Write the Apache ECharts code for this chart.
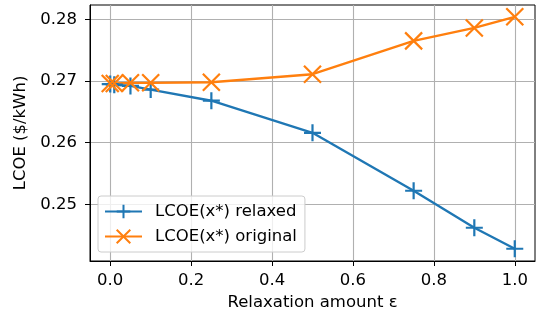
<!DOCTYPE html>
<html>
<head>
<meta charset="utf-8">
<script src="https://cdn.jsdelivr.net/npm/echarts@6/dist/echarts.min.js"></script>
<style>
  html, body { margin: 0; padding: 0; background: #fff; }
  #chart { width: 540px; height: 318px; }
</style>
</head>
<body>
<div id="chart"></div>
<script>
// relaxation amounts (x) and LCOE values
const epsilon = [0, 0.01, 0.05, 0.1, 0.25, 0.5, 0.75, 0.9, 1.0];
const lcoeRelaxed = [0.2695, 0.2694, 0.2692, 0.2686, 0.2668, 0.2616, 0.2522, 0.2462, 0.2428];
const lcoeOriginal = [0.2696, 0.2696, 0.2697, 0.2697, 0.2698, 0.2711, 0.2765, 0.2786, 0.2804];
const xTicks = [0, 0.2, 0.4, 0.6, 0.8, 1.0];
const yTicks = [0.25, 0.26, 0.27, 0.28];

const font = 'DejaVu Sans';
const fontSize = 16.5;
const plusPath = 'path://M5,0L5,10M0,5L10,5';
const crossPath = 'path://M0,0L10,10M0,10L10,0';

const chart = echarts.init(document.getElementById('chart'));

const makeSeries = (name, ys, color, symbol) => ({
    name: name,
    type: 'line',
    data: epsilon.map((x, i) => [x, ys[i]]),
    symbol: symbol,
    symbolSize: 17,
    showAllSymbol: true,
    lineStyle: { color: color, width: 2.4 },
    itemStyle: { color: 'rgba(0,0,0,0)', borderColor: color, borderWidth: 2.2 },
    emphasis: { disabled: true },
    animation: false
});

chart.setOption({
    animation: false,
    grid: {
        left: 90, right: 5, top: 5, bottom: 57,
        show: true, borderColor: '#000', borderWidth: 1
    },
    legend: {
        left: 98, top: 196,
        orient: 'vertical',
        itemWidth: 37, itemHeight: 17,
        itemGap: 8,
        padding: [7, 8, 7, 6],
        backgroundColor: 'rgba(255,255,255,0.8)',
        borderColor: '#ccc', borderWidth: 1, borderRadius: 3,
        textStyle: { fontFamily: font, fontSize: fontSize, color: '#000', padding: [0, 0, 0, 8] },
        data: ['LCOE(x*) relaxed', 'LCOE(x*) original']
    },
    xAxis: {
        type: 'value',
        min: -0.05, max: 1.05,
        name: 'Relaxation amount ε',
        nameLocation: 'middle',
        nameGap: 33,
        nameTextStyle: { fontFamily: font, fontSize: fontSize, color: '#000' },
        axisLine: { show: true, onZero: false, lineStyle: { color: '#000', width: 1 } },
        axisTick: { show: true, length: 5, inside: false, customValues: xTicks, lineStyle: { color: '#000' } },
        axisLabel: {
            customValues: xTicks, margin: 11,
            fontFamily: font, fontSize: fontSize, color: '#000',
            formatter: v => v.toFixed(1)
        },
        splitLine: { show: true, lineStyle: { color: '#b0b0b0', width: 1.1 } }
    },
    yAxis: {
        type: 'value',
        min: 0.24081, max: 0.28232,
        name: 'LCOE ($/kWh)',
        nameLocation: 'middle',
        nameGap: 58,
        nameTextStyle: { fontFamily: font, fontSize: fontSize, color: '#000' },
        axisLine: { show: true, onZero: false, lineStyle: { color: '#000', width: 1 } },
        axisTick: { show: true, length: 5, inside: false, customValues: yTicks, lineStyle: { color: '#000' } },
        axisLabel: {
            customValues: yTicks, margin: 13,
            fontFamily: font, fontSize: fontSize, color: '#000',
            formatter: v => v.toFixed(2)
        },
        splitLine: { show: true, lineStyle: { color: '#b0b0b0', width: 1.1 } }
    },
    series: [
        makeSeries('LCOE(x*) relaxed', lcoeRelaxed, '#1f77b4', plusPath),
        makeSeries('LCOE(x*) original', lcoeOriginal, '#ff7f0e', crossPath)
    ]
});
</script>
</body>
</html>
